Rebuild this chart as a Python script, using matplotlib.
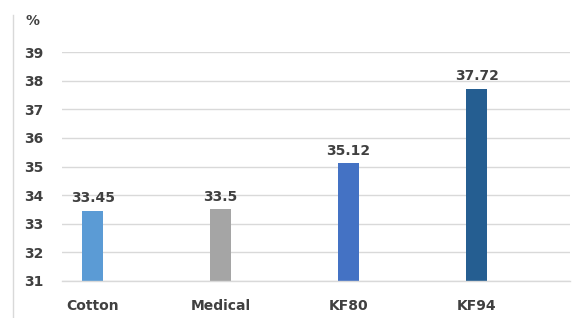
import matplotlib
matplotlib.use("Agg")
import matplotlib.pyplot as plt
from matplotlib.lines import Line2D

categories = ["Cotton", "Medical", "KF80", "KF94"]
values = [33.45, 33.5, 35.12, 37.72]
labels = ["33.45", "33.5", "35.12", "37.72"]
colors = ["#5b9bd5", "#a5a5a5", "#4472c4", "#255e91"]
yticks = [31, 32, 33, 34, 35, 36, 37, 38, 39]

fig = plt.figure(figsize=(5.77, 3.18), dpi=100)
ax = fig.add_axes([62/577, 1-281/318, (570-62)/577, (281-52)/318])

x = list(range(len(categories)))
ax.bar(x, [v - 31 for v in values], bottom=31, width=0.16, color=colors, zorder=3)
for xi, v, l in zip(x, values, labels):
    ax.annotate(l, (xi, v), xytext=(0, 4), textcoords="offset points",
                ha="center", va="bottom", fontsize=10, fontweight="bold", color="#404040")

ax.set_ylim(31, 39)
ax.set_xlim(-0.24, 3.73)
ax.set_yticks(yticks)
ax.set_xticks(x)
ax.set_xticklabels(categories)
ax.grid(axis="y", color="#d9d9d9", linewidth=1, zorder=0)
ax.axhline(31, color="#d9d9d9", linewidth=1, zorder=4, clip_on=False)
for s in ax.spines.values():
    s.set_visible(False)
ax.tick_params(axis="both", length=0, labelsize=10, labelcolor="#404040")
ax.tick_params(axis="y", pad=13.5)
ax.tick_params(axis="x", pad=13)
for t in ax.get_xticklabels() + ax.get_yticklabels():
    t.set_fontweight("bold")

fig.text(25/577, 1-21/318, "%", fontsize=10, fontweight="bold", color="#404040", va="center")
fig.add_artist(Line2D([13/577, 13/577], [0, 1-15/318], color="#d9d9d9", linewidth=1))

fig.savefig("out.png", dpi=100)
